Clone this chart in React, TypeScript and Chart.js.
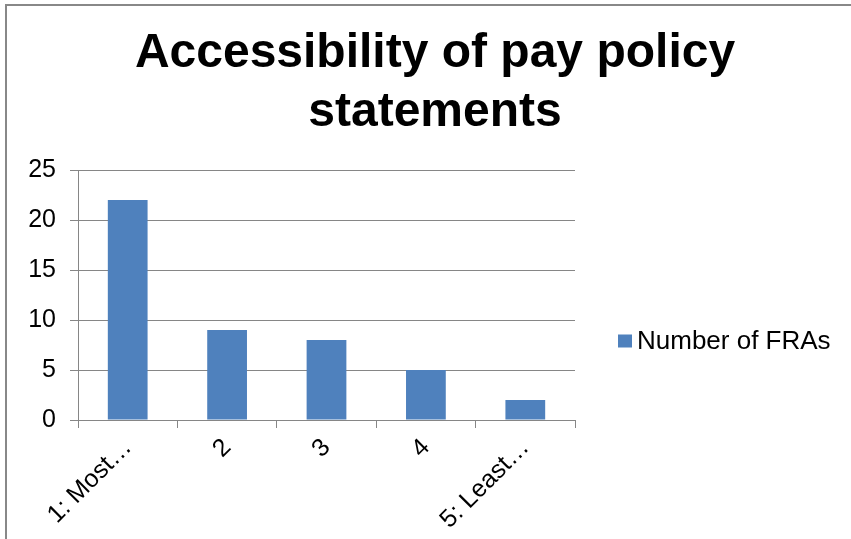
import React, { useEffect, useRef } from "react";
import { Chart, registerables } from "chart.js";

Chart.register(...registerables);

const categories = ["1: Most…", "2", "3", "4", "5: Least…"];
const seriesName = "Number of FRAs";
const values = [22, 9, 8, 5, 2];
const titleLines = ["Accessibility of pay policy", "statements"];
const yMin = 0;
const yMax = 25;
const yStep = 5;

const FONT = "'Liberation Sans', Arial, sans-serif";

// Draws the single-series legend to the right of the plot area.
const sideLegend = {
  id: "sideLegend",
  afterDraw(chart: any) {
    const ds = chart.data.datasets[0];
    if (!ds) return;
    const { ctx, chartArea } = chart;
    const x = chartArea.right + 43;
    const cy = 335;
    ctx.save();
    ctx.fillStyle = ds.backgroundColor;
    ctx.fillRect(x, cy - 6.5, 14, 13);
    ctx.fillStyle = "#000";
    ctx.font = `26px ${FONT}`;
    ctx.textBaseline = "middle";
    ctx.textAlign = "left";
    ctx.fillText(ds.label, x + 19, cy + 1);
    ctx.restore();
  },
};

export default function App() {
  const ref = useRef<HTMLCanvasElement | null>(null);
  useEffect(() => {
    if (!ref.current) return;
    const chart = new Chart(ref.current, {
      type: "bar",
      data: {
        labels: categories,
        datasets: [
          {
            label: seriesName,
            data: values,
            backgroundColor: "#4F81BD",
            borderWidth: 0,
            categoryPercentage: 1,
            barPercentage: 0.4,
          },
        ],
      },
      options: {
        animation: false,
        responsive: false,
        devicePixelRatio: 1,
        layout: { padding: { left: 0, right: -12, top: 0, bottom: 0 } },
        plugins: {
          title: {
            display: true,
            text: titleLines,
            color: "#000",
            font: { family: FONT, size: 48, weight: "bold", lineHeight: 1.23 },
            padding: { top: 18, bottom: 28 },
          },
          legend: { display: false },
          tooltip: { enabled: false },
        },
        scales: {
          x: {
            afterFit: (s: any) => {
              s.height = 119;
            },
            grid: { drawOnChartArea: false, drawTicks: true, tickLength: 8, color: "#868686" },
            border: { color: "#868686" },
            ticks: {
              color: "#000",
              maxRotation: 45,
              minRotation: 45,
              padding: 5,
              autoSkip: false,
              font: { family: FONT, size: 25 },
            },
          },
          y: {
            min: yMin,
            max: yMax,
            afterFit: (s: any) => {
              s.width = 71;
            },
            grid: { color: "#868686", tickLength: 8 },
            border: { color: "#868686" },
            ticks: {
              stepSize: yStep,
              color: "#000",
              padding: 14,
              font: { family: FONT, size: 25 },
            },
          },
          legendSpace: {
            type: "linear",
            position: "right",
            display: true,
            afterFit: (s: any) => {
              s.width = 288;
            },
            grid: { display: false, drawTicks: false },
            border: { display: false },
            ticks: { display: false },
          },
        },
      },
      plugins: [sideLegend],
    });
    return () => chart.destroy();
  }, []);
  return (
    <div
      style={{
        position: "absolute",
        left: 5,
        top: 4,
        width: 846,
        height: 535,
        borderLeft: "2px solid #888",
        borderTop: "2px solid #888",
        background: "#fff",
        overflow: "hidden",
      }}
    >
      <canvas ref={ref} width={844} height={533} style={{ display: "block" }} />
    </div>
  );
}
